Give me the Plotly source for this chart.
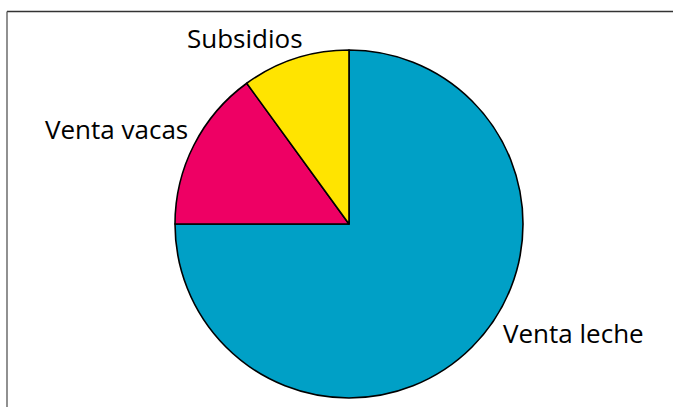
import plotly.graph_objects as go

labels = ["Venta leche", "Venta vacas", "Subsidios"]
values = [75, 15, 10]
colors = ["#00A0C6", "#EE0064", "#FFE400"]

W, H = 674, 407
cx, cy, r = 349, 224, 174  # pixels from top-left

fig = go.Figure(go.Pie(
    labels=labels,
    values=values,
    sort=False,
    direction="clockwise",
    rotation=0,
    marker=dict(colors=colors, line=dict(color="black", width=1.6)),
    textinfo="none",
    hoverinfo="label+percent",
    showlegend=False,
    domain=dict(x=[(cx - r) / W, (cx + r) / W],
                y=[(H - cy - r) / H, (H - cy + r) / H]),
))

label_pos = {"Subsidios": (245, 38), "Venta vacas": (116, 129), "Venta leche": (573, 333)}
for lab in labels:
    px, py = label_pos[lab]
    fig.add_annotation(x=px / W, y=1 - py / H, xref="paper", yref="paper",
                       text=lab, showarrow=False, xanchor="center", yanchor="middle",
                       font=dict(family="Open Sans", size=26, color="black"))

# frame lines
fig.add_shape(type="line", xref="paper", yref="paper",
              x0=7 / W, x1=673 / W, y0=1 - 11.5 / H, y1=1 - 11.5 / H,
              line=dict(color="#333333", width=1.3))
fig.add_shape(type="line", xref="paper", yref="paper",
              x0=7 / W, x1=7 / W, y0=1 - 11.5 / H, y1=0,
              line=dict(color="#555555", width=1.3))

fig.update_layout(width=W, height=H, margin=dict(l=0, r=0, t=0, b=0),
                  paper_bgcolor="white", plot_bgcolor="white")

fig.write_html("out.html", config={"displayModeBar": False},
               post_script="document.body.style.margin='0';document.body.style.padding='0';")
